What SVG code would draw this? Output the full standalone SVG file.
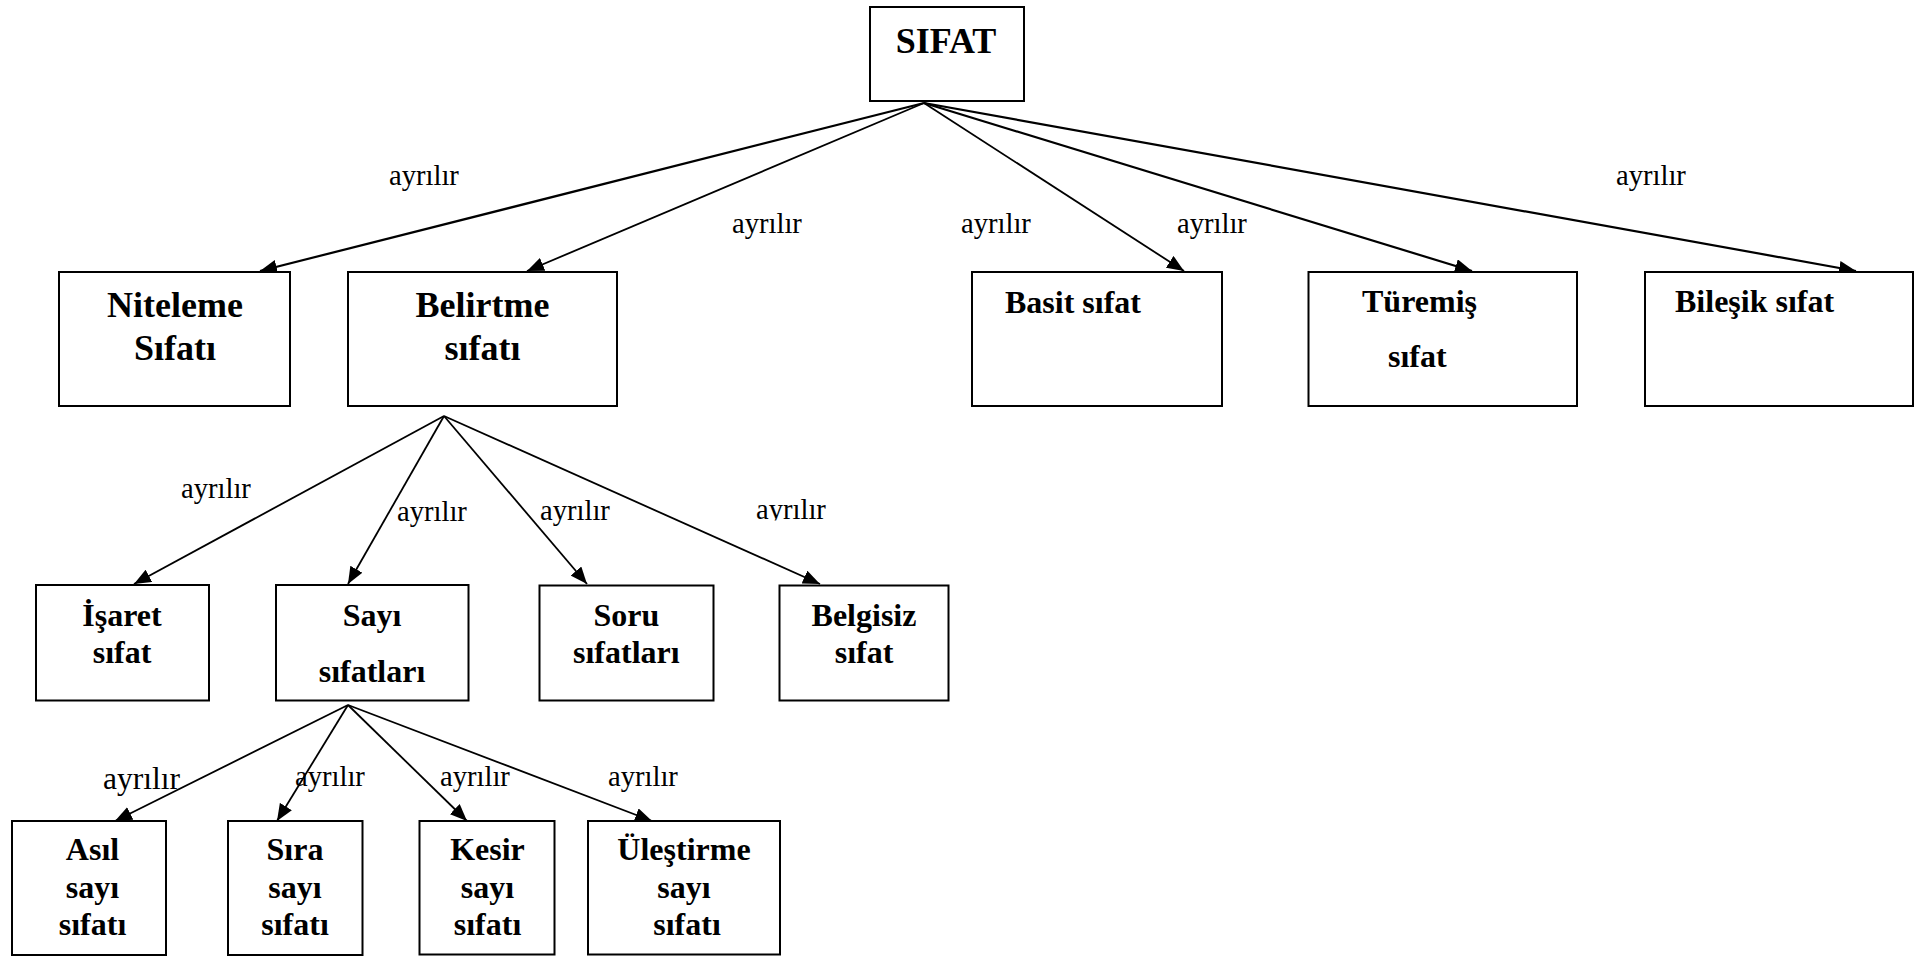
<svg xmlns="http://www.w3.org/2000/svg" width="1923" height="956" viewBox="0 0 1923 956">
<style>
  .box { fill: #fff; stroke: #000; stroke-width: 2; }
  .n { font-family: "Liberation Serif", "Times New Roman", serif; font-weight: bold; fill: #000; }
  .n36 { font-size: 36px; }
  .n32 { font-size: 32px; }
  .c { text-anchor: middle; }
  .lbl { font-family: "Liberation Serif", "Times New Roman", serif; font-size: 28.6px; fill: #000; }
  .conn line { stroke: #000; stroke-width: 1.8; fill: none; marker-end: url(#arr); }
  .conn .thick { stroke-width: 2.2; }
</style>
<defs>
  <marker id="arr" markerUnits="userSpaceOnUse" markerWidth="18" markerHeight="14" refX="17" refY="7" orient="auto">
    <path d="M0,0 L17,7 L0,14 z" fill="#000"/>
  </marker>
  <clipPath id="clipB"><rect x="740" y="480" width="120" height="40.5"/></clipPath>
</defs>
<rect width="1923" height="956" fill="#fff"/>

<g id="connectors" class="conn">
  <line class="thick" x1="924" y1="103" x2="260" y2="271"/>
  <line x1="924" y1="103" x2="527" y2="271"/>
  <line x1="924" y1="103" x2="1184" y2="271"/>
  <line class="thick" x1="924" y1="103" x2="1472" y2="271"/>
  <line class="thick" x1="924" y1="103" x2="1856" y2="271"/>
  <line x1="444" y1="416" x2="134" y2="584"/>
  <line x1="444" y1="416" x2="348" y2="584"/>
  <line x1="444" y1="416" x2="587" y2="584"/>
  <line x1="444" y1="416" x2="820" y2="584"/>
  <line x1="348" y1="705" x2="115" y2="821"/>
  <line x1="348" y1="705" x2="277" y2="821"/>
  <line x1="348" y1="705" x2="467" y2="821"/>
  <line x1="348" y1="705" x2="652" y2="821"/>
</g>

<g id="labels">
  <text class="lbl" x="389" y="185">ayrılır</text>
  <text class="lbl" x="732" y="233">ayrılır</text>
  <text class="lbl" x="961" y="233">ayrılır</text>
  <text class="lbl" x="1177" y="233">ayrılır</text>
  <text class="lbl" x="1616" y="185">ayrılır</text>
  <text class="lbl" x="181" y="498">ayrılır</text>
  <text class="lbl" x="397" y="521">ayrılır</text>
  <text class="lbl" x="540" y="520">ayrılır</text>
  <text class="lbl" x="756" y="519" clip-path="url(#clipB)">ayrılır</text>
  <text class="lbl" x="103" y="789" style="font-size:31.5px">ayrılır</text>
  <text class="lbl" x="295" y="786">ayrılır</text>
  <text class="lbl" x="440" y="786">ayrılır</text>
  <text class="lbl" x="608" y="786">ayrılır</text>
</g>

<g id="node-sifat">
  <rect class="box" x="870" y="7" width="154" height="94"/>
  <text class="n n36 c" x="946" y="53">SIFAT</text>
</g>
<g id="node-niteleme">
  <rect class="box" x="59" y="272" width="231" height="134"/>
  <text class="n n36 c" x="175" y="317">Niteleme</text>
  <text class="n n36 c" x="175" y="360">Sıfatı</text>
</g>
<g id="node-belirtme">
  <rect class="box" x="348" y="272" width="269" height="134"/>
  <text class="n n36 c" x="482.5" y="317">Belirtme</text>
  <text class="n n36 c" x="482.5" y="360">sıfatı</text>
</g>
<g id="node-basit">
  <rect class="box" x="972" y="272" width="250" height="134"/>
  <text class="n n32" x="1005" y="313">Basit sıfat</text>
</g>
<g id="node-turemis">
  <rect class="box" x="1308.5" y="272" width="268.5" height="134"/>
  <text class="n n32" x="1362" y="312">Türemiş</text>
  <text class="n n32" x="1388" y="367">sıfat</text>
</g>
<g id="node-bilesik">
  <rect class="box" x="1645" y="272" width="268" height="134"/>
  <text class="n n32" x="1675" y="312">Bileşik sıfat</text>
</g>
<g id="node-isaret">
  <rect class="box" x="36" y="585" width="173" height="115.5"/>
  <text class="n n32 c" x="122" y="626">İşaret</text>
  <text class="n n32 c" x="122" y="663">sıfat</text>
</g>
<g id="node-sayi">
  <rect class="box" x="276" y="585" width="192.5" height="115.5"/>
  <text class="n n32 c" x="372" y="626">Sayı</text>
  <text class="n n32 c" x="372" y="682">sıfatları</text>
</g>
<g id="node-soru">
  <rect class="box" x="539.5" y="585.5" width="174" height="115"/>
  <text class="n n32 c" x="626.3" y="626">Soru</text>
  <text class="n n32 c" x="626.3" y="663">sıfatları</text>
</g>
<g id="node-belgisiz">
  <rect class="box" x="779.5" y="585.5" width="169" height="115"/>
  <text class="n n32 c" x="864" y="626">Belgisiz</text>
  <text class="n n32 c" x="864" y="663">sıfat</text>
</g>
<g id="node-asil">
  <rect class="box" x="12" y="821" width="154" height="134"/>
  <text class="n n32 c" x="92.5" y="860">Asıl</text>
  <text class="n n32 c" x="92.5" y="898">sayı</text>
  <text class="n n32 c" x="92.5" y="935">sıfatı</text>
</g>
<g id="node-sira">
  <rect class="box" x="228" y="821" width="134.5" height="134"/>
  <text class="n n32 c" x="295" y="860">Sıra</text>
  <text class="n n32 c" x="295" y="898">sayı</text>
  <text class="n n32 c" x="295" y="935">sıfatı</text>
</g>
<g id="node-kesir">
  <rect class="box" x="419.5" y="821" width="135" height="133.5"/>
  <text class="n n32 c" x="487.5" y="860">Kesir</text>
  <text class="n n32 c" x="487.5" y="898">sayı</text>
  <text class="n n32 c" x="487.5" y="935">sıfatı</text>
</g>
<g id="node-ulestirme">
  <rect class="box" x="588" y="821" width="192" height="133.5"/>
  <text class="n n32 c" x="684" y="860">Üleştirme</text>
  <text class="n n32 c" x="684" y="898">sayı</text>
  <text class="n n32 c" x="687" y="935">sıfatı</text>
</g>
</svg>
